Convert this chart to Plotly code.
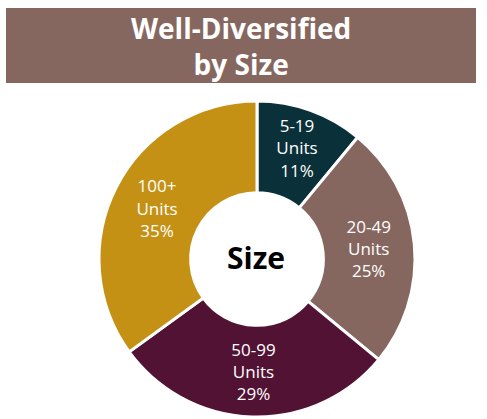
import plotly.graph_objects as go

labels = ["5-19<br>Units", "20-49<br>Units", "50-99<br>Units", "100+<br>Units"]
values = [11, 25, 29, 35]
colors = ["#0a313a", "#866760", "#521233", "#c49115"]
title_lines = ["Well-Diversified", "by Size"]
center_text = "Size"

W, H = 487, 419
fig = go.Figure()
fig.add_trace(go.Pie(
    labels=labels, values=values, hole=0.42, sort=False, direction="clockwise",
    rotation=0,
    marker=dict(colors=colors, line=dict(color="white", width=3)),
    texttemplate="%{label}<br>%{percent:.0%}",
    textposition="inside", insidetextorientation="horizontal",
    textfont=dict(color="white", size=17, family="Open Sans"),
    domain=dict(x=[99/W, 415/W], y=[1-417/H, 1-101/H]),
    showlegend=False, hoverinfo="skip",
))
fig.add_shape(type="rect", xref="paper", yref="paper",
              x0=6/W, x1=476/W, y0=1-83/H, y1=1-8/H,
              fillcolor="#866760", line=dict(width=0), layer="below")
fig.add_annotation(x=241/W, y=1-46/H, xref="paper", yref="paper",
                   xanchor="center", yanchor="middle",
                   text="<b>" + "<br>".join(title_lines) + "</b>", showarrow=False,
                   font=dict(color="white", size=28, family="Open Sans"))
fig.add_annotation(x=256/W, y=1-257/H, xref="paper", yref="paper",
                   xanchor="center", yanchor="middle",
                   text="<b>" + center_text + "</b>", showarrow=False,
                   font=dict(color="black", size=30, family="Open Sans"))
fig.update_layout(width=W, height=H, margin=dict(l=0, r=0, t=0, b=0),
                  paper_bgcolor="white", plot_bgcolor="white")
fig.write_html("out.html")
